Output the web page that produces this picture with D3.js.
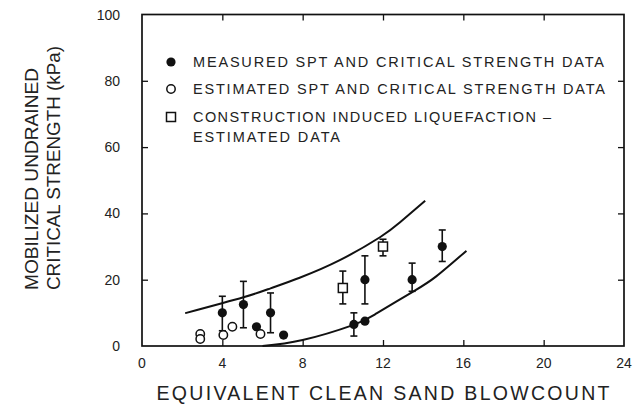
<!DOCTYPE html>
<html>
<head>
<meta charset="utf-8">
<script src="https://cdn.jsdelivr.net/npm/d3@7"></script>
<style>
  body { margin: 0; background: #fff; }
  text { font-family: "Liberation Sans", Arial, sans-serif; fill: #222; }
</style>
</head>
<body>
<div id="chart"></div>
<script>
// Data
const measuredX = [4.0, 5.05, 5.7, 6.4, 7.05, 10.55, 11.1, 11.1, 13.45, 14.95];
const measuredY = [10, 12.5, 5.8, 10, 3.3, 6.5, 7.5, 20, 20, 30];
const measuredLo = [4.6, 5.5, null, 4, null, 3, null, 12.7, 16.5, 25.5];
const measuredHi = [15, 19.5, null, 16, null, 10, null, 27.2, 25, 35];

const estimatedX = [2.9, 2.9, 4.05, 4.5, 5.9];
const estimatedY = [3.6, 2.1, 3.3, 5.8, 3.6];

const constructionX = [10.0, 12.0];
const constructionY = [17.5, 30];
const constructionLo = [12.7, 27.2];
const constructionHi = [22.6, 32.2];

const upperX = [2.15, 5.05, 6.4, 7.85, 9.85, 11.85, 12.85, 14.1];
const upperY = [9.9, 14.7, 17.4, 20.6, 25.9, 32.8, 37.3, 43.8];
const lowerX = [6.0, 8.0, 10.5, 11.7, 13.5, 14.65, 16.15];
const lowerY = [0, 1.8, 6.3, 9.9, 16.4, 21.0, 28.7];

const xTicks = [0, 4, 8, 12, 16, 20, 24];
const yTicks = [0, 20, 40, 60, 80, 100];

const legendLines = [
  "MEASURED SPT AND CRITICAL STRENGTH DATA",
  "ESTIMATED SPT AND CRITICAL STRENGTH DATA",
  "CONSTRUCTION INDUCED LIQUEFACTION \u2013",
  "ESTIMATED DATA"
];

const svgWidth = 638;
const svgHeight = 404;

const svg = d3.select("#chart")
  .append("svg")
  .attr("width", svgWidth)
  .attr("height", svgHeight);

const x = d3.scaleLinear().domain([0, 24]).range([142, 624]);
const y = d3.scaleLinear().domain([0, 100]).range([346, 14.5]);

// frame
svg.append("rect")
  .attr("x", x(0)).attr("y", y(100))
  .attr("width", x(24) - x(0)).attr("height", y(0) - y(100))
  .attr("fill", "none").attr("stroke", "#111").attr("stroke-width", 1.7);

// inward ticks on all four sides
const tickLen = 6;
const bottomAxis = d3.axisBottom(x).tickValues(xTicks.slice(1, -1)).tickSize(-tickLen).tickFormat("");
const topAxis = d3.axisTop(x).tickValues(xTicks.slice(1, -1)).tickSize(-tickLen).tickFormat("");
const leftAxis = d3.axisLeft(y).tickValues(yTicks.slice(1, -1)).tickSize(-tickLen).tickFormat("");
const rightAxis = d3.axisRight(y).tickValues(yTicks.slice(1, -1)).tickSize(-tickLen).tickFormat("");

[
  [bottomAxis, `translate(0,${y(0)})`],
  [topAxis, `translate(0,${y(100)})`],
  [leftAxis, `translate(${x(0)},0)`],
  [rightAxis, `translate(${x(24)},0)`]
].forEach(([ax, tr]) => {
  const g = svg.append("g").attr("transform", tr).call(ax);
  g.select(".domain").remove();
  g.selectAll("line").attr("stroke", "#111").attr("stroke-width", 1.3);
});

// tick labels
svg.append("g").selectAll("text")
  .data(xTicks)
  .enter()
  .append("text")
  .attr("x", d => x(d))
  .attr("y", 368)
  .attr("text-anchor", "middle")
  .attr("font-size", 14)
  .text(d => d);

svg.append("g").selectAll("text")
  .data(yTicks)
  .enter()
  .append("text")
  .attr("x", 120)
  .attr("y", d => y(d) + 5)
  .attr("text-anchor", "end")
  .attr("font-size", 14)
  .text(d => d);

// axis titles
svg.append("text")
  .attr("x", 156.5)
  .attr("y", 400)
  .attr("font-size", 19.5)
  .attr("textLength", 453)
  .attr("lengthAdjust", "spacing")
  .text("EQUIVALENT CLEAN SAND BLOWCOUNT");

const yTitle = svg.append("g").attr("transform", "translate(0,290) rotate(-90)");
yTitle.append("text")
  .attr("x", 0).attr("y", 38)
  .attr("font-size", 18)
  .attr("textLength", 222)
  .attr("lengthAdjust", "spacingAndGlyphs")
  .text("MOBILIZED UNDRAINED");
yTitle.append("text")
  .attr("x", 0).attr("y", 60)
  .attr("font-size", 18)
  .attr("textLength", 244)
  .attr("lengthAdjust", "spacingAndGlyphs")
  .text("CRITICAL STRENGTH (kPa)");

// bounding curves
const line = d3.line().x(d => x(d[0])).y(d => y(d[1])).curve(d3.curveNatural);
svg.append("path")
  .attr("d", line(d3.zip(upperX, upperY)))
  .attr("fill", "none").attr("stroke", "#111").attr("stroke-width", 2);
svg.append("path")
  .attr("d", line(d3.zip(lowerX, lowerY)))
  .attr("fill", "none").attr("stroke", "#111").attr("stroke-width", 2);

// error bars
const capW = 3.5;
const drawBars = (xs, los, his) => {
  const g = svg.append("g").attr("stroke", "#111").attr("stroke-width", 1.6);
  xs.forEach((xv, i) => {
    if (los[i] == null) return;
    g.append("line").attr("x1", x(xv)).attr("x2", x(xv)).attr("y1", y(los[i])).attr("y2", y(his[i]));
    g.append("line").attr("x1", x(xv) - capW).attr("x2", x(xv) + capW).attr("y1", y(his[i])).attr("y2", y(his[i]));
    g.append("line").attr("x1", x(xv) - capW).attr("x2", x(xv) + capW).attr("y1", y(los[i])).attr("y2", y(los[i]));
  });
};
drawBars(measuredX, measuredLo, measuredHi);
drawBars(constructionX, constructionLo, constructionHi);

// markers
svg.append("g").selectAll("circle")
  .data(d3.zip(measuredX, measuredY))
  .enter()
  .append("circle")
  .attr("cx", d => x(d[0]))
  .attr("cy", d => y(d[1]))
  .attr("r", 4.6)
  .attr("fill", "#111");

svg.append("g").selectAll("circle")
  .data(d3.zip(estimatedX, estimatedY))
  .enter()
  .append("circle")
  .attr("cx", d => x(d[0]))
  .attr("cy", d => y(d[1]))
  .attr("r", 4.2)
  .attr("fill", "#fff")
  .attr("stroke", "#111")
  .attr("stroke-width", 1.5);

svg.append("g").selectAll("rect")
  .data(d3.zip(constructionX, constructionY))
  .enter()
  .append("rect")
  .attr("x", d => x(d[0]) - 4.5)
  .attr("y", d => y(d[1]) - 4.5)
  .attr("width", 9)
  .attr("height", 9)
  .attr("fill", "#fff")
  .attr("stroke", "#111")
  .attr("stroke-width", 1.5);

// legend
const legend = svg.append("g");
const legendY = [67, 94, 122, 142];
const legendLen = [411, 412, 358, 147];
legendLines.forEach((t, i) => {
  legend.append("text")
    .attr("x", 193)
    .attr("y", legendY[i])
    .attr("font-size", 14.5)
    .attr("textLength", legendLen[i])
    .attr("lengthAdjust", "spacing")
    .text(t);
});
legend.append("circle").attr("cx", 171).attr("cy", 62).attr("r", 4.6).attr("fill", "#111");
legend.append("circle").attr("cx", 171).attr("cy", 89).attr("r", 4.2)
  .attr("fill", "#fff").attr("stroke", "#111").attr("stroke-width", 1.5);
legend.append("rect").attr("x", 166.5).attr("y", 112.5).attr("width", 9).attr("height", 9)
  .attr("fill", "#fff").attr("stroke", "#111").attr("stroke-width", 1.5);
</script>
</body>
</html>
